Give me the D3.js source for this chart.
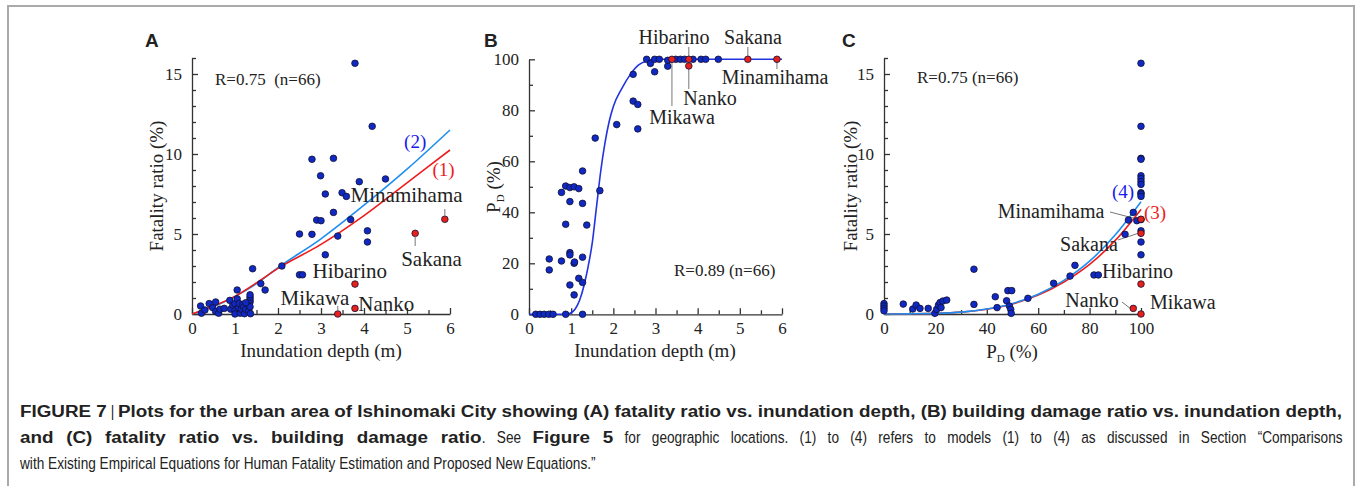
<!DOCTYPE html>
<html>
<head>
<meta charset="utf-8">
<script src="https://cdn.jsdelivr.net/npm/d3@7"></script>
<style>
  body { margin: 0; background: #fff; }
  svg text { font-family: "Liberation Serif", "Times New Roman", serif; fill: #222; }
</style>
</head>
<body>
<svg id="fig" width="1356" height="486"></svg>
<script>
// ---- panel A : fatality ratio vs inundation depth (blue sites) ----
const aDepth = [0.2, 0.22, 0.3, 0.4, 0.48, 0.55, 0.55, 0.62, 0.65, 0.75, 0.88, 0.9, 0.95, 1.0, 1.0, 1.0,
  1.05, 1.05, 1.08, 1.1, 1.12, 1.15, 1.18, 1.2, 1.22, 1.25, 1.3, 1.32, 1.35, 1.35, 1.35, 1.35, 1.35, 1.36, 1.25,
  1.41, 1.6, 1.7, 2.09, 2.5, 2.57, 2.5, 2.79, 2.9, 3.0, 2.99, 3.1, 3.1, 3.29, 3.39, 3.49, 3.59, 3.69, 3.89,
  4.08, 4.08, 4.5, 3.79, 4.19, 2.79, 3.29];
const aFatal = [0.5, 0.05, 0.25, 0.65, 0.4, 0.75, 0.15, 0.05, 0.3, 0.35, 0.85, 0.3, 0.55, 0.65, 0.2, 0.0,
  1.5, 0.95, 0.4, 0.65, 0.05, 0.3, 0.6, 0.45, 0.02, 0.3, 0.6, 0.2, 0.75, 0.9, 1.05, 1.2, 0.45, 0.02, 0.7,
  2.83, 1.9, 1.5, 3.0, 2.45, 2.45, 5.0, 4.98, 5.87, 5.83, 8.64, 7.5, 3.7, 6.35, 4.87, 7.58, 7.35, 5.9, 8.27,
  5.2, 4.5, 8.44, 15.67, 11.73, 9.67, 9.73];

// ---- panel B : building damage ratio vs inundation depth (blue sites) ----
const bDepth = [0.16, 0.26, 0.36, 0.47, 0.57, 0.87, 1.27,
  0.48, 0.48, 0.77, 0.87, 0.77, 0.87, 0.97, 1.07, 1.18, 0.97, 1.27, 1.37, 0.97, 0.97, 1.07, 1.08, 1.27, 1.18,
  0.97, 1.27, 1.07, 1.68,
  1.27, 1.57, 2.08, 2.47, 2.47, 2.58, 2.58, 2.79, 2.88, 2.98, 2.98, 3.09, 3.29, 3.29, 3.48, 3.59, 3.69, 3.89,
  4.08, 4.19, 4.49];
const bPd = [0, 0, 0, 0, 0, 0, 0,
  21.7, 17.4, 20.9, 35.3, 47.8, 50.3, 49.7, 50.0, 49.3, 44.2, 43.5, 35.0, 24.2, 23.3, 20.0, 20.5, 22.4, 14.1,
  11.5, 12.5, 7.6, 48.5,
  56.2, 69.1, 74.4, 94.1, 83.6, 82.3, 72.7, 100, 98.4, 95.1, 100, 100, 97.3, 99.6, 100, 100, 100, 100,
  100, 100, 100];

// ---- panel C : fatality ratio vs building damage ratio (blue sites) ----
const cPd = [0, 0, 0, 0, 7.5, 11.2, 12.5, 14, 17.2, 19.8, 20.5, 21.2, 21.8, 22.9, 24.4, 22.2, 35, 35,
  43.3, 44, 48.2, 49.7, 47.7, 48.8, 49.3, 49.5, 56, 66, 72.4, 74.3, 81.7, 83.4, 93.8, 95.1, 97, 98.4,
  100, 100, 100, 100, 100, 100, 100, 100, 100, 100, 100, 100, 100, 100, 100];
const cFatal = [0.65, 0.5, 0.35, 0.2, 0.62, 0.31, 0.56, 0.35, 0.35, 0.04, 0.29, 0.56, 0.71, 0.81, 0.87, 0.4, 0.6, 2.8,
  1.08, 0.4, 1.46, 1.46, 0.83, 0.5, 0.29, 0.04, 0.98, 1.92, 2.37, 3.04, 2.44, 2.44, 4.98, 5.87, 6.35, 5.83,
  15.67, 11.73, 9.73, 9.67, 8.64, 8.46, 8.27, 7.58, 7.5, 7.35, 5.9, 5.2, 4.5, 3.7, 8.1];

// named sites (red)
const siteNames = ['Minamihama', 'Sakana', 'Hibarino', 'Nanko', 'Mikawa'];
const siteDepth = [5.88, 5.19, 3.79, 3.79, 3.39];
const siteFatal = [5.92, 5.04, 1.87, 0.35, 0];
const sitePdB = [100, 100, 100, 97.4, 100];
const sitePdC = [100, 100, 100, 97, 100];

// model curves
const modelDepth = [0, 0.5, 1, 1.5, 2, 3, 4, 5, 6];
const model1 = [0, 0.5, 1.1, 1.95, 2.85, 4.35, 6.15, 8.2, 10.25];
const model2 = [0, 0.45, 1.1, 1.9, 2.9, 4.7, 6.8, 9.05, 11.5];
const fragDepth = [0, 0.9, 1.0, 1.1, 1.2, 1.3, 1.4, 1.5, 1.6, 1.7, 1.8, 1.9, 2.0, 2.2, 2.4, 2.6, 2.8, 3.0, 6];
const fragPd = [0, 0, 0.6, 2.2, 5.5, 11, 18.5, 28, 42, 56, 67, 75.5, 81.5, 88.5, 94, 97.8, 99.4, 100, 100];
const modelPd = [0, 10, 20, 30, 40, 50, 60, 70, 80, 90, 100];
const model3 = [0, 0.01, 0.04, 0.12, 0.3, 0.63, 1.18, 2.0, 3.1, 4.6, 6.54];
const model4 = [0, 0.01, 0.04, 0.12, 0.31, 0.66, 1.24, 2.1, 3.3, 4.95, 7.02];

const svg = d3.select('#fig');
const blueFill = '#1029c4', redFill = '#e8201c';

// frame
svg.append('path').attr('d', 'M8,486V6H1354V486')
  .attr('fill', 'none').attr('stroke', '#aaa').attr('stroke-width', 2);

function axes(x, y, xMajor, xMinor, yMajor, yMinor, xFmt, yFmt) {
  const y0 = y.range()[0], x0 = x.range()[0];
  const gx = svg.append('g').attr('transform', `translate(0,${y0})`);
  gx.call(d3.axisBottom(x).tickValues(xMajor).tickFormat(xFmt).tickSizeInner(-6).tickSizeOuter(0).tickPadding(8));
  gx.append('g').call(d3.axisBottom(x).tickValues(xMinor).tickFormat('').tickSize(-4))
    .select('.domain').remove();
  const gy = svg.append('g').attr('transform', `translate(${x0},0)`);
  gy.call(d3.axisLeft(y).tickValues(yMajor).tickFormat(yFmt).tickSizeInner(-6).tickSizeOuter(0).tickPadding(10));
  gy.append('g').call(d3.axisLeft(y).tickValues(yMinor).tickFormat('').tickSize(-4))
    .select('.domain').remove();
  [gx, gy].forEach(g => {
    g.attr('font-family', null).attr('font-size', null);
    g.selectAll('text').style('font-size', '17px');
    g.selectAll('path,line').attr('stroke', '#333').attr('stroke-width', 1.3);
  });
}

function dots(x, y, xs, ys, fill) {
  svg.append('g').selectAll('circle').data(xs).join('circle')
    .attr('cx', d => x(d)).attr('cy', (d, i) => y(ys[i])).attr('r', 3.3)
    .attr('fill', fill).attr('stroke', '#101030').attr('stroke-width', 0.8);
}

function curve(x, y, xs, ys, color) {
  const line = d3.line().x(d => x(d[0])).y(d => y(d[1])).curve(d3.curveMonotoneX);
  svg.append('path').datum(xs.map((d, i) => [d, ys[i]]))
    .attr('fill', 'none').attr('stroke', color).attr('stroke-width', 1.6).attr('d', line);
}

function label(px, py, txt, opts = {}) {
  return svg.append('text').attr('x', px).attr('y', py)
    .attr('text-anchor', opts.anchor || 'middle')
    .style('font-size', (opts.size || 21) + 'px')
    .style('fill', opts.color || '#222').text(txt);
}

function leader(x1, y1, x2, y2) {
  svg.append('line').attr('x1', x1).attr('y1', y1).attr('x2', x2).attr('y2', y2)
    .attr('stroke', '#777').attr('stroke-width', 1);
}

function panelLetter(px, txt) {
  svg.append('text').attr('x', px).attr('y', 47).text(txt)
    .style('font-family', '"Liberation Sans", Arial, sans-serif')
    .style('font-weight', 'bold').style('font-size', '19px');
}

function pdLabel(px, py, rotate) {
  const t = svg.append('text').style('font-size', '19px').attr('text-anchor', 'middle')
    .attr('transform', `translate(${px},${py})` + (rotate ? ' rotate(-90)' : ''));
  t.append('tspan').text('P');
  t.append('tspan').text('D').style('font-size', '11px').attr('dy', 4);
  t.append('tspan').text(' (%)').attr('dy', -4);
}

// ================= A =================
{
  const x = d3.scaleLinear().domain([0, 6]).range([192, 450]);
  const y = d3.scaleLinear().domain([0, 16]).range([314, 58]);
  axes(x, y, d3.range(0, 7), d3.range(0.5, 6, 1), [0, 5, 10, 15], d3.range(1, 17).filter(v => v % 5),
    d3.format('d'), d3.format('d'));
  curve(x, y, modelDepth, model2, '#1f8ef0');
  curve(x, y, modelDepth, model1, '#ee1c1c');
  dots(x, y, aDepth, aFatal, blueFill);
  dots(x, y, siteDepth, siteFatal, redFill);
  leader(x(5.88), 209, x(5.88), y(5.92) - 3);
  leader(x(5.19), y(5.04) + 3, x(5.19), 246);
  leader(x(3.39), 306, x(3.39), y(0) - 3);
  label(x(4.99), 202, 'Minamihama');
  label(x(5.57), 266, 'Sakana');
  label(x(3.67), 278, 'Hibarino');
  label(x(2.86), 305, 'Mikawa');
  label(x(4.52), 311, 'Nanko');
  label(x(5.19), 148, '(2)', { color: '#1a1aee', size: 19 });
  label(x(5.85), 176, '(1)', { color: '#ee1c1c', size: 19 });
  label(215, 85, 'R=0.75\u00a0\u00a0(n=66)', { anchor: 'start', size: 17 });
  svg.append('text').attr('transform', 'translate(163,186) rotate(-90)')
    .attr('text-anchor', 'middle').style('font-size', '19px').text('Fatality ratio (%)');
  label(321, 357, 'Inundation depth (m)', { size: 19 });
  panelLetter(145, 'A');
}

// ================= B =================
{
  const x = d3.scaleLinear().domain([0, 6]).range([529, 782]);
  const y = d3.scaleLinear().domain([0, 100]).range([314.3, 59.3]);
  axes(x, y, d3.range(0, 7), d3.range(0.5, 6, 1), d3.range(0, 101, 20), d3.range(10, 100, 20),
    d3.format('d'), d3.format('d'));
  curve(x, y, fragDepth, fragPd, '#2233e0');
  // leaders first so dots sit on top
  leader(x(3.79), 47, x(3.79), y(100));
  leader(x(5.19), 47, x(5.19), y(100));
  leader(x(5.88), y(100), x(5.88), 69);
  leader(x(3.79), y(97.4), x(3.79), 89);
  leader(x(3.39), y(100), x(3.39), 106);
  dots(x, y, bDepth, bPd, blueFill);
  dots(x, y, siteDepth, sitePdB, redFill);
  label(674, 44, 'Hibarino', { size: 20 });
  label(753, 44, 'Sakana', { size: 20 });
  label(775, 84, 'Minamihama', { size: 20 });
  label(710, 105, 'Nanko', { size: 20 });
  label(682, 124, 'Mikawa', { size: 20 });
  label(674, 276, 'R=0.89\u00a0(n=66)', { anchor: 'start', size: 17 });
  pdLabel(500, 187, true);
  label(655, 357, 'Inundation depth (m)', { size: 19 });
  panelLetter(484, 'B');
}

// ================= C =================
{
  const x = d3.scaleLinear().domain([0, 100]).range([884, 1141]);
  const y = d3.scaleLinear().domain([0, 16]).range([314, 58]);
  axes(x, y, d3.range(0, 101, 20), d3.range(10, 100, 20), [0, 5, 10, 15], d3.range(1, 17).filter(v => v % 5),
    d3.format('d'), d3.format('d'));
  curve(x, y, modelPd, model3, '#ee1c1c');
  curve(x, y, modelPd, model4, '#1f8ef0');
  leader(1110, 212, x(100) - 3, y(5.92));
  leader(1118, 240, x(100) - 3, y(5.04));
  leader(1122, 302, x(97) - 3, y(0.35));
  dots(x, y, cPd, cFatal, blueFill);
  dots(x, y, sitePdC, siteFatal, redFill);
  label(1051, 218, 'Minamihama', { size: 20 });
  label(1089, 251, 'Sakana', { size: 20 });
  label(1102, 278, 'Hibarino', { anchor: 'start', size: 20 });
  label(1092, 307, 'Nanko', { size: 20 });
  label(1150, 309, 'Mikawa', { anchor: 'start', size: 20 });
  label(1123, 198, '(4)', { color: '#1a1aee', size: 19 });
  label(1155, 219, '(3)', { color: '#ee1c1c', size: 19 });
  label(917, 83, 'R=0.75\u00a0(n=66)', { anchor: 'start', size: 17 });
  svg.append('text').attr('transform', 'translate(857,186) rotate(-90)')
    .attr('text-anchor', 'middle').style('font-size', '19px').text('Fatality ratio (%)');
  pdLabel(1012, 358, false);
  panelLetter(842, 'C');
}

// ================= caption =================
const capLines = [
  [['FIGURE 7', 'b'], [' | ', 'n'], ['Plots for the urban area of Ishinomaki City showing (A) fatality ratio vs. inundation depth, (B) building damage ratio vs. inundation depth,', 'b']],
  [['and (C) fatality ratio vs. building damage ratio', 'b'], ['. See ', 'n'], ['Figure 5', 'b'], [' for geographic locations. (1) to (4) refers to models (1) to (4) as discussed in Section \u201cComparisons', 'n']],
  [['with Existing Empirical Equations for Human Fatality Estimation and Proposed New Equations.\u201d', 'n']]
];
const capLeft = 20, capRight = 1343, lastLineWidth = 576;

// each run is its own text so bold and regular runs can be squeezed separately
const runs = capLines.map(parts => parts.map(p => {
  const t = svg.append('text').text(p[0])
    .style('font-family', '"Liberation Sans", Arial, sans-serif')
    .style('font-size', '17px').style('white-space', 'pre')
    .style('font-weight', p[1] === 'b' ? 'bold' : 'normal').style('fill', '#222');
  return { t, bold: p[1] === 'b', w: t.node().getComputedTextLength(), spaces: (p[0].match(/ /g) || []).length };
}));
const sumW = (line, b) => d3.sum(line.filter(r => r.bold === b), r => r.w);
// narrow face: regular squeeze from the unjustified last line, bold squeeze from the full first line
const fn = lastLineWidth / sumW(runs[2], false);
const fb = (capRight - capLeft - fn * sumW(runs[0], false)) / sumW(runs[0], true);
runs.forEach((line, i) => {
  const natural = d3.sum(line, r => r.w * (r.bold ? fb : fn));
  const nSpaces = d3.sum(line, r => r.spaces);
  // justified lines: spread the slack over the word gaps
  const extra = i < runs.length - 1 ? Math.max(0, (capRight - capLeft - natural) / nSpaces) : 0;
  let cx = capLeft;
  line.forEach(r => {
    const f = r.bold ? fb : fn;
    r.t.style('word-spacing', (extra / f) + 'px')
      .attr('transform', `translate(${cx},${417 + i * 26}) scale(${f},1)`);
    cx += r.w * f + r.spaces * extra;
  });
});
</script>
</body>
</html>
